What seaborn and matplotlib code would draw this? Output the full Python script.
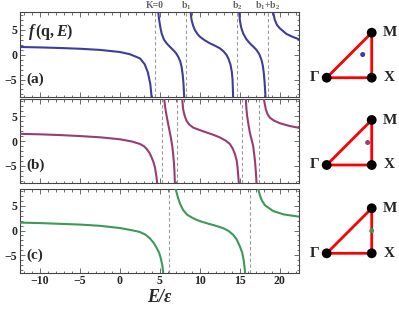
import numpy as np
import pandas as pd
import matplotlib
matplotlib.use("Agg")
import matplotlib.pyplot as plt
import matplotlib.transforms as mtransforms
from matplotlib.ticker import MultipleLocator
import seaborn as sns

# ---------------- data ----------------
# panel (a)
a1_E = [-12.5, -10, -7.5, -5, -2.5, 0, 1.25, 2.5, 3.1, 3.5, 3.8, 3.96]
a1_f = [1.5, 1.42, 1.3, 1.15, 0.92, 0.5, 0.05, -0.77, -1.95, -3.6, -5.9, -8.5]
a2_E = [4.79, 4.91, 5.05, 5.21, 5.5, 5.84, 6.25, 6.66, 7.0, 7.29, 7.55, 7.71, 7.85, 7.95, 8.04]
a2_f = [8.5, 6.9, 5.5, 4.24, 3.0, 2.24, 1.55, 0.9, 0.3, -0.44, -1.4, -2.44, -4.0, -5.8, -8.5]
a3_E = [8.84, 8.96, 9.15, 9.375, 9.7, 10.0, 10.6, 11.25, 11.9, 12.5, 12.95, 13.34, 13.6, 13.84, 14.0, 14.09, 14.16]
a3_f = [8.5, 6.9, 5.8, 4.9, 4.1, 3.56, 2.85, 2.24, 1.75, 1.24, 0.65, -0.1, -0.95, -2.1, -3.5, -5.1, -8.5]
a4_E = [14.91, 15.0, 15.15, 15.41, 15.8, 16.25, 16.7, 17.09, 17.45, 17.71, 17.88, 18.0, 18.1, 18.21]
a4_f = [8.5, 6.9, 5.5, 4.24, 3.1, 2.24, 1.55, 0.9, 0.0, -1.1, -2.3, -3.76, -5.6, -8.5]
a5_E = [19.16, 19.375, 19.65, 20.0, 20.84, 21.5, 22.4]
a5_f = [8.5, 6.9, 5.9, 5.24, 4.1, 3.6, 3.04]
a_free = [4.37, 8.25, 14.67, 18.54]

# panel (b)
b1_E = [-12.5, -10, -7.5, -5, -2.5, 0, 1.5, 2.5, 3.0, 3.34, 3.7, 3.96, 4.2, 4.375, 4.55, 4.66]
b1_f = [1.45, 1.35, 1.2, 1.0, 0.75, 0.35, -0.1, -0.6, -1.05, -1.6, -2.4, -3.3, -4.3, -5.3, -7.0, -8.5]
b2_E = [5.54, 5.68, 5.84, 6.05, 6.25, 6.4, 6.54, 6.65, 6.75, 6.82, 6.875]
b2_f = [8.5, 6.6, 5.06, 3.3, 1.7, 0.4, -0.94, -2.5, -4.3, -6.2, -8.5]
b3_E = [7.79, 7.91, 8.1, 8.34, 8.7, 9.16, 10.0, 10.84, 11.7, 12.5, 13.2, 13.75, 14.1, 14.375, 14.6, 14.71, 14.875]
b3_f = [8.5, 6.4, 5.1, 4.06, 3.3, 2.72, 2.2, 1.72, 1.25, 0.72, 0.1, -0.6, -1.5, -2.6, -3.9, -5.28, -8.5]
b4_E = [15.75, 15.82, 15.91, 16.08, 16.25, 16.45, 16.66, 16.78, 16.91, 17.0, 17.09]
b4_f = [8.5, 6.6, 5.06, 3.3, 1.72, 0.4, -0.94, -2.5, -4.28, -6.2, -8.5]
b5_E = [18.0, 18.25, 18.45, 18.75, 19.3, 20.0, 21.2, 22.4]
b5_f = [8.5, 6.4, 5.5, 4.72, 4.1, 3.6, 3.05, 2.66]
b_free = [5.21, 7.16, 15.33, 17.43]

# panel (c)
c1_E = [-12.5, -10, -7.5, -5, -2.5, 0, 1.66, 2.5, 3.2, 3.75, 4.2, 4.59, 4.9, 5.09, 5.3, 5.41]
c1_f = [1.6, 1.5, 1.35, 1.2, 0.95, 0.5, 0.0, -0.3, -0.85, -1.6, -2.45, -3.5, -4.5, -5.5, -7.0, -8.5]
c2_E = [6.96, 7.1, 7.29, 7.55, 7.91, 8.4, 9.16, 10.0, 10.84, 11.9, 12.91, 13.6, 14.16, 14.6, 15.0, 15.3, 15.5, 15.66]
c2_f = [8.5, 7.6, 6.48, 5.3, 4.14, 3.2, 2.48, 1.9, 1.48, 1.0, 0.48, -0.1, -0.86, -1.8, -3.2, -4.5, -6.2, -8.5]
c3_E = [17.29, 17.5, 17.75, 18.125, 19.16, 20.5, 22.4]
c3_f = [8.5, 7.14, 6.1, 5.14, 3.94, 3.25, 2.8]
c_free = [6.16, 16.32]

free_labels = ["K=0", r"$\mathbf{b}_\mathbf{1}$", r"$\mathbf{b}_\mathbf{2}$",
               r"$\mathbf{b}_\mathbf{1}\mathbf{+b}_\mathbf{2}$"]

x_ticks = [-10, -5, 0, 5, 10, 15, 20]
y_ticks = [-5, 0, 5]

# Brillouin-zone triangle (Gamma, X, M) and q points
tri_x = [0, 1, 1, 0]
tri_y = [0, 0, 1, 0]
q_points = [(0.8, 0.515), (0.91, 0.5), (1.0, 0.5)]

line_colors = ["#3F3D99", "#993D71", "#3D9956"]
panel_names = ["(a)", "(b)", "(c)"]

# ---------------- style ----------------
sns.set_style("white")
plt.rcParams["font.family"] = ["Liberation Serif", "DejaVu Serif"]
plt.rcParams["font.weight"] = "bold"
plt.rcParams["mathtext.fontset"] = "custom"
plt.rcParams["mathtext.rm"] = "Liberation Serif"
plt.rcParams["mathtext.bf"] = "Liberation Serif:bold"
plt.rcParams["mathtext.it"] = "Liberation Serif:italic"
plt.rcParams["mathtext.bfit"] = "Liberation Serif:bold:italic"

W, H = 399, 309
fig = plt.figure(figsize=(W / 100, H / 100), dpi=100)

def px_axes(x0, y0, x1, y1):
    return fig.add_axes([x0 / W, 1 - y1 / H, (x1 - x0) / W, (y1 - y0) / H])

panel_px = [(12, 97), (99, 183), (188.5, 272.5)]
branches = [
    [(a1_E, a1_f), (a2_E, a2_f), (a3_E, a3_f), (a4_E, a4_f), (a5_E, a5_f)],
    [(b1_E, b1_f), (b2_E, b2_f), (b3_E, b3_f), (b4_E, b4_f), (b5_E, b5_f)],
    [(c1_E, c1_f), (c2_E, c2_f), (c3_E, c3_f)],
]
free = [a_free, b_free, c_free]
gamma_y = [77.7, 165, 253.3]

for i in range(3):
    top, bot = panel_px[i]
    ax = px_axes(20, top, 299, bot)
    rows = []
    for j, (E, f) in enumerate(branches[i]):
        for e, v in zip(E, f):
            rows.append({"E": e, "f": v, "branch": j})
    df = pd.DataFrame(rows)
    for e in free[i]:
        ax.axvline(e, color="#9a9a9a", lw=0.8, ls=(0, (3, 2.2)), zorder=1)
    sns.lineplot(data=df, x="E", y="f", units="branch", estimator=None, sort=False,
                 color=line_colors[i], lw=1.5, ax=ax, zorder=3)
    ax.set_xlim(-12.5, 22.4)
    ax.set_ylim(-8.5, 8.5)
    ax.set_xlabel("")
    ax.set_ylabel("")
    ax.set_xticks(x_ticks)
    ax.set_yticks(y_ticks)
    ax.xaxis.set_minor_locator(MultipleLocator(1))
    ax.yaxis.set_minor_locator(MultipleLocator(1))
    ax.tick_params(which="both", direction="in", top=True, right=True, bottom=True, left=True,
                   color="#555555", width=0.6, labelsize=8.5, pad=2)
    ax.tick_params(which="major", length=3.5)
    ax.tick_params(which="minor", length=1.8)
    ax.set_yticklabels(["\u22125", "0", "5"], fontweight="bold")
    if i < 2:
        ax.tick_params(labelbottom=False)
    else:
        ax.set_xticklabels(["\u221210", "\u22125", "0", "5", "10", "15", "20"], fontweight="bold")
        ax.set_xlabel("E/\u03b5", fontsize=13, fontweight="bold", fontstyle="italic", labelpad=1)
    for s in ax.spines.values():
        s.set_color("#444444")
        s.set_linewidth(0.8)
    trans = mtransforms.blended_transform_factory(ax.transAxes, ax.transData)
    ax.text(0.022, -5, panel_names[i], transform=trans, fontsize=11, fontweight="bold",
            va="center", ha="left")
    if i == 0:
        ax.text(0.028, 4.6, r"$\mathbfit{f}\,\mathbf{(q,}\mathbfit{E}\mathbf{)}$", transform=trans,
                fontsize=11.5, va="center", ha="left")
        trans2 = mtransforms.blended_transform_factory(ax.transData, ax.transAxes)
        for e, lab in zip(a_free, free_labels):
            ax.text(e, 1.045, lab, transform=trans2, fontsize=7, color="#666666",
                    ha="center", va="baseline", fontweight="bold")

    # triangle inset
    gy = gamma_y[i]
    tax = px_axes(305, top, 399, bot)
    tax.set_xlim((305 - 326.7) / 45, (399 - 326.7) / 45)
    tax.set_ylim((gy - bot) / 45, (gy - top) / 45)
    tax.axis("off")
    tax.plot(tri_x, tri_y, color="#ff0000", lw=2.0, solid_capstyle="round", zorder=1)
    sns.scatterplot(x=tri_x[:3], y=tri_y[:3], color="black", s=50, edgecolor="none", ax=tax, zorder=2)
    sns.scatterplot(x=[q_points[i][0]], y=[q_points[i][1]], color=line_colors[i], s=13,
                    edgecolor="none", ax=tax, zorder=3)
    tax.text(1.41, 1.0, "M", fontsize=11, fontweight="bold", ha="center", va="center")
    tax.text(1.40, 0.0, "X", fontsize=11, fontweight="bold", ha="center", va="center")
    tax.text(-0.26, 0.0, "\u0393", fontsize=11, fontweight="bold", ha="center", va="center")

fig.savefig("out.png", dpi=100)
